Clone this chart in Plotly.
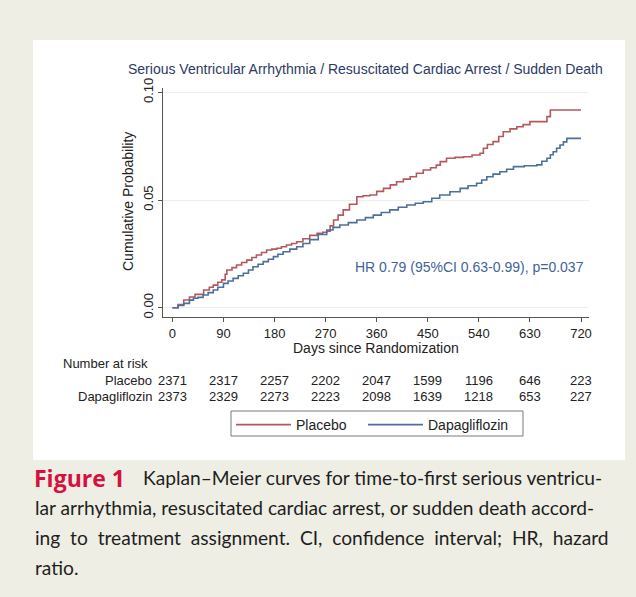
import plotly.graph_objects as go

W, H = 636, 597

title_text = "Serious Ventricular Arrhythmia / Resuscitated Cardiac Arrest / Sudden Death"

placebo_days = [0, 10, 20, 30, 40, 55, 65, 72, 80, 87, 93, 96, 105, 113, 122, 131, 140, 148, 157, 166,
                175, 184, 192, 201, 210, 219, 230, 242, 255, 265, 272, 278, 284, 292, 301, 312, 325,
                336, 348, 360, 372, 384, 395, 407, 419, 430, 442, 455, 465, 472, 483, 498, 513, 528,
                542, 548, 555, 565, 575, 583, 595, 607, 618, 630, 655, 660, 666, 720]
placebo_prob = [0, 0.0015, 0.0036, 0.005, 0.0062, 0.0082, 0.0095, 0.0105, 0.0118, 0.0129, 0.0155, 0.0175,
                0.0186, 0.0198, 0.021, 0.0221, 0.0233, 0.0245, 0.0256, 0.0268, 0.0272, 0.0276, 0.0283,
                0.0291, 0.0298, 0.0306, 0.032, 0.0336, 0.0345, 0.035, 0.0355, 0.038, 0.0407, 0.043,
                0.0454, 0.048, 0.0515, 0.052, 0.0523, 0.054, 0.0554, 0.057, 0.0585, 0.0597, 0.0608,
                0.0624, 0.0639, 0.065, 0.0662, 0.0678, 0.0694, 0.0698, 0.0701, 0.0709, 0.0717, 0.074,
                0.0758, 0.0771, 0.0795, 0.0817, 0.083, 0.084, 0.085, 0.0864, 0.0864, 0.0887, 0.0918, 0.0918]

dapa_days = [0, 10, 20, 30, 37, 45, 54, 63, 72, 80, 90, 98, 107, 116, 125, 134, 142, 151, 160, 169, 178,
             186, 195, 207, 219, 230, 242, 257, 272, 283, 295, 310, 325, 340, 354, 368, 383, 398, 413,
             428, 442, 457, 471, 489, 507, 521, 536, 545, 554, 565, 577, 589, 601, 620, 642, 651, 660,
             666, 671, 677, 683, 689, 695, 720]
dapa_prob = [0, 0.001, 0.002, 0.0035, 0.0044, 0.0048, 0.0059, 0.007, 0.0082, 0.0095, 0.0113, 0.0124,
             0.0136, 0.0148, 0.016, 0.0175, 0.019, 0.0202, 0.0214, 0.0225, 0.0237, 0.0248, 0.026,
             0.0272, 0.0283, 0.0298, 0.0316, 0.034, 0.0361, 0.0373, 0.0384, 0.0395, 0.0407, 0.0418,
             0.043, 0.0442, 0.0454, 0.0466, 0.0477, 0.0485, 0.0492, 0.0508, 0.0523, 0.0538, 0.0554,
             0.0566, 0.0578, 0.0593, 0.0608, 0.062, 0.0631, 0.0643, 0.0655, 0.0659, 0.0663, 0.068,
             0.0694, 0.071, 0.0724, 0.074, 0.0755, 0.077, 0.0786, 0.0786]

x_ticks = [0, 90, 180, 270, 360, 450, 540, 630, 720]
y_ticks = [0.0, 0.05, 0.10]
y_ticklabels = ["0.00", "0.05", "0.10"]

risk_days = [0, 90, 180, 270, 360, 450, 540, 630, 720]
placebo_risk = [2371, 2317, 2257, 2202, 2047, 1599, 1196, 646, 223]
dapa_risk = [2373, 2329, 2273, 2223, 2098, 1639, 1218, 653, 227]

hr_text = "HR 0.79 (95%CI 0.63-0.99), p=0.037"
caption_label = "Figure 1"
caption_lines = [
    "Kaplan–Meier curves for time-to-first serious ventricu-",
    "lar arrhythmia, resuscitated cardiac arrest, or sudden death accord-",
    "ing to treatment assignment. CI, confidence interval; HR, hazard",
    "ratio.",
]

RED = "#B4585D"
BLUE = "#4C6F9C"
FONT = "Liberation Sans"


def px(x):
    return x / W


def py(y):
    return 1 - y / H


fig = go.Figure()
fig.add_trace(go.Scatter(x=placebo_days, y=placebo_prob, mode="lines", name="Placebo",
                         line=dict(color=RED, width=1.6, shape="hv"), legend="legend"))
fig.add_trace(go.Scatter(x=dapa_days, y=dapa_prob, mode="lines", name="Dapagliflozin",
                         line=dict(color=BLUE, width=1.6, shape="hv"), legend="legend2"))

ann = []
# Title
ann.append(dict(text=title_text, x=px(365), y=py(69), xref="paper", yref="paper",
                xanchor="center", yanchor="middle", showarrow=False,
                font=dict(family=FONT, size=14, color="#2C3A66")))
# HR text
ann.append(dict(text=hr_text, x=px(586), y=py(267), xref="paper", yref="paper",
                xanchor="right", yanchor="middle", showarrow=False,
                font=dict(family=FONT, size=14, color="#42639A")))
# Axis titles
ann.append(dict(text="Cumulative Probability", x=px(128), y=py(202), xref="paper", yref="paper",
                xanchor="center", yanchor="middle", textangle=-90, showarrow=False,
                font=dict(family=FONT, size=14, color="#222")))
ann.append(dict(text="Days since Randomization", x=px(376), y=py(348), xref="paper", yref="paper",
                xanchor="center", yanchor="middle", showarrow=False,
                font=dict(family=FONT, size=14, color="#222")))
# Number at risk table
ann.append(dict(text="Number at risk", x=px(61), y=py(363), xref="paper", yref="paper",
                xanchor="left", yanchor="middle", showarrow=False,
                font=dict(family=FONT, size=13, color="#222")))
for label, vals, yy in (("Placebo", placebo_risk, 380.5), ("Dapagliflozin", dapa_risk, 396)):
    ann.append(dict(text=label, x=px(154), y=py(yy), xref="paper", yref="paper",
                    xanchor="right", yanchor="middle", showarrow=False,
                    font=dict(family=FONT, size=13, color="#222")))
    for d, v in zip(risk_days, vals):
        ann.append(dict(text=str(v), x=d, y=py(yy), xref="x", yref="paper",
                        xanchor="center", yanchor="middle", showarrow=False,
                        font=dict(family=FONT, size=13, color="#222")))
# Caption
CAP_FONT = "Lato"
ann.append(dict(text="<b>" + caption_label + "</b>", x=px(32), y=py(478), xref="paper", yref="paper",
                xanchor="left", yanchor="middle", showarrow=False,
                font=dict(family="Open Sans", size=23, color="#D3123F")))
cap_y = [478, 508, 537.5, 567]
cap_x = [141, 33, 33, 33]
for i, (t, yy, xx) in enumerate(zip(caption_lines, cap_y, cap_x)):
    if i == 2:
        t = t.replace(" ", "\u00a0 ")
    ann.append(dict(text=t, x=px(xx), y=py(yy), xref="paper", yref="paper",
                    xanchor="left", yanchor="middle", showarrow=False,
                    font=dict(family=CAP_FONT, size=19.2, color="#1E1E1E")))

shapes = [
    dict(type="rect", xref="paper", yref="paper", x0=px(33), x1=px(625), y0=py(460), y1=py(40),
         fillcolor="white", line=dict(width=0), layer="below"),
    # legend frame
    dict(type="rect", xref="paper", yref="paper", x0=px(231), x1=px(523), y0=py(436), y1=py(411),
         fillcolor="white", line=dict(width=1, color="#7A7A7A"), layer="below"),
]

x_left, x_right = 163, 589
y_top, y_bot = 88, 317
ppd = (581 - 172.4) / 720
ppv = (307.7 - 92.3) / 0.10
xr = [(x_left - 172.4) / ppd, (x_right - 172.4) / ppd]
yr = [(307.7 - y_bot) / ppv, (307.7 - y_top) / ppv]

leg_common = dict(orientation="h", xanchor="left", yanchor="top", borderwidth=0,
                  bgcolor="rgba(0,0,0,0)", font=dict(family=FONT, size=14, color="#222"),
                  itemwidth=55)

fig.update_layout(
    width=W, height=H,
    margin=dict(l=0, r=0, t=0, b=0),
    paper_bgcolor="#EFEEE4",
    plot_bgcolor="white",
    annotations=ann,
    shapes=shapes,
    showlegend=True,
    legend=dict(x=px(231), y=py(409), **leg_common),
    legend2=dict(x=px(363), y=py(409), **leg_common),
    xaxis=dict(domain=[px(x_left), px(x_right)], range=xr, tickvals=x_ticks,
               showgrid=False, zeroline=False, showline=True, linecolor="#555", linewidth=1,
               ticks="outside", ticklen=4, tickcolor="#555",
               tickfont=dict(family=FONT, size=13, color="#222"), automargin=False),
    yaxis=dict(domain=[py(y_bot), py(y_top)], range=yr, tickvals=y_ticks, ticktext=y_ticklabels,
               tickangle=-90, showgrid=True, gridcolor="#E9EFEF", gridwidth=1, zeroline=False,
               showline=True, linecolor="#555", linewidth=1, ticks="outside", ticklen=4,
               tickcolor="#555", tickfont=dict(family=FONT, size=13, color="#222"), automargin=False),
)

fig.write_html("out.html", config={"displayModeBar": False},
               post_script="document.body.style.margin='0';")
